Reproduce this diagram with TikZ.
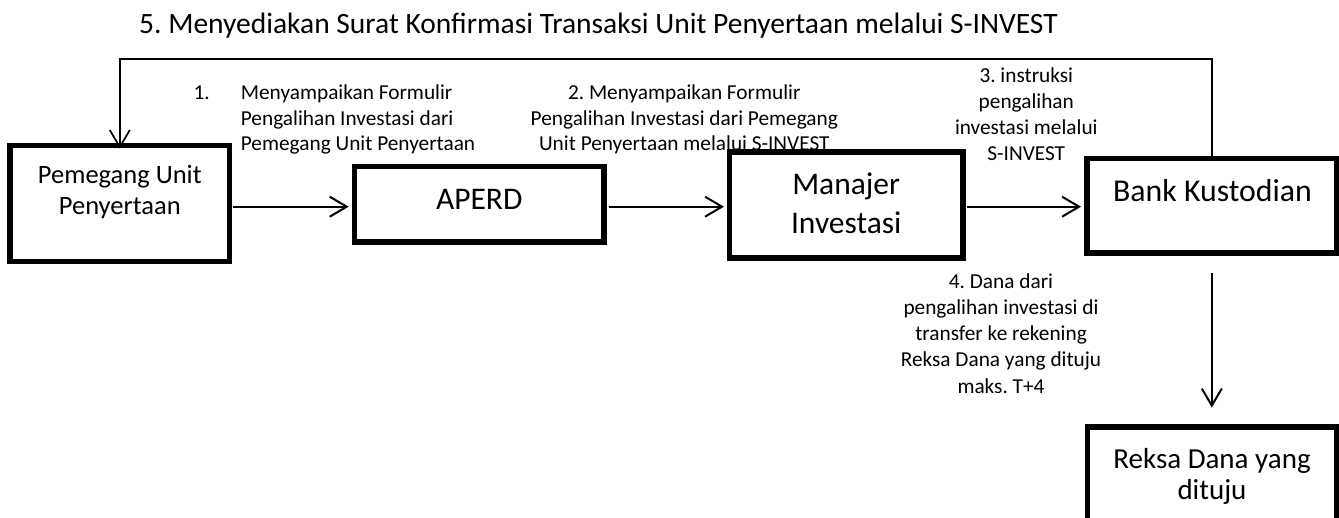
\documentclass[tikz,border=0pt]{standalone}
\usepackage{fontspec}
\setmainfont{Carlito}
\usetikzlibrary{arrows.meta}
\frenchspacing
\begin{document}
\begin{tikzpicture}[x=1pt,y=-1pt,
  box/.style={draw, line width=5.5pt, inner sep=0pt},
  conn/.style={line width=2pt, -{Straight Barb[length=17pt,width=20pt]}},
  fb/.style={line width=1.7pt, -{Straight Barb[length=17pt,width=20pt]}},
  small/.style={inner sep=0pt, font=\fontsize{21.3}{25.5}\selectfont},
  smalltall/.style={inner sep=0pt, font=\fontsize{21.3}{26.2}\selectfont},
  boxtext/.style={inner sep=0pt, align=center}]
\useasboundingbox (0,0) rectangle (1339,518);

% boxes
\node[box, minimum width=219.5pt, minimum height=116.1pt] (pem) at (119.8,203.5) {};
\node[box, minimum width=249.5pt, minimum height=75.5pt] (aperd) at (479.2,204.5) {};
\node[box, minimum width=233.5pt, minimum height=105.9pt] (mi) at (846.2,205) {};
\node[box, minimum width=250pt, minimum height=94.5pt] (bk) at (1211.8,206) {};
\node[box, minimum width=249pt, minimum height=100pt] (rd) at (1212.2,477) {};

% box texts (base anchor = baseline of the last line)
\node[boxtext, anchor=base, font=\fontsize{26.5}{31.7}\selectfont] (pemt) at (119.8,215) {Pemegang Unit\\Penyertaan};
\node[boxtext, anchor=base, font=\fontsize{31.5}{38}\selectfont] (aperdt) at (479.2,209.3) {APERD};
\node[boxtext, anchor=base, font=\fontsize{31.5}{38.3}\selectfont] (mit) at (846.2,233.3) {Manajer\\Investasi};
\node[boxtext, anchor=base, font=\fontsize{31.8}{38.3}\selectfont] (bkt) at (1212.5,201.7) {Bank Kustodian};
\node[boxtext, anchor=base, font=\fontsize{29}{31}\selectfont] (rdt) at (1212,499.3) {Reksa Dana yang\\dituju};

% title
\node[inner sep=0pt, anchor=base, font=\fontsize{29.5}{34}\selectfont] (title) at (598.5,33.3) {5. Menyediakan Surat Konfirmasi Transaksi Unit Penyertaan melalui S-INVEST};

% connector labels
\node[small, anchor=base west] (n1) at (193.3,100) {1.};
\node[small, align=left, anchor=base west] (l1) at (240.7,151) {Menyampaikan Formulir\\Pengalihan Investasi dari\\Pemegang Unit Penyertaan};
\node[small, align=center, anchor=base] (l2) at (684.3,151) {2. Menyampaikan Formulir\\Pengalihan Investasi dari Pemegang\\Unit Penyertaan melalui S-INVEST};
\node[smalltall, align=center, anchor=base] (l3) at (1026.3,160.9) {3. instruksi\\pengalihan\\investasi melalui\\S-INVEST};
\node[smalltall, align=center, anchor=base] (l4) at (1001,393.1) {4. Dana dari\\pengalihan investasi di\\transfer ke rekening\\Reksa Dana yang dituju\\maks. T+4};

% connectors
\coordinate (ay) at (0,206.7);
\coordinate (fbt) at (0,59.3);
\draw[conn, shorten <=1pt, shorten >=3pt] (pem.east |- ay) -- (aperd.west |- ay);
\draw[conn, shorten <=2pt, shorten >=2.7pt] (aperd.east |- ay) -- (mi.west |- ay);
\draw[conn, shorten <=1.5pt, shorten >=3pt] (mi.east |- ay) -- (bk.west |- ay);
\draw[fb, shorten >=-6pt] (bk.north) -- (bk.north |- fbt) -- (pem.north |- fbt) -- (pem.north);
\draw[conn, shorten <=17.3pt, shorten >=16.7pt] (bk.south) -- (rd.north -| bk.south);
\end{tikzpicture}
\end{document}
